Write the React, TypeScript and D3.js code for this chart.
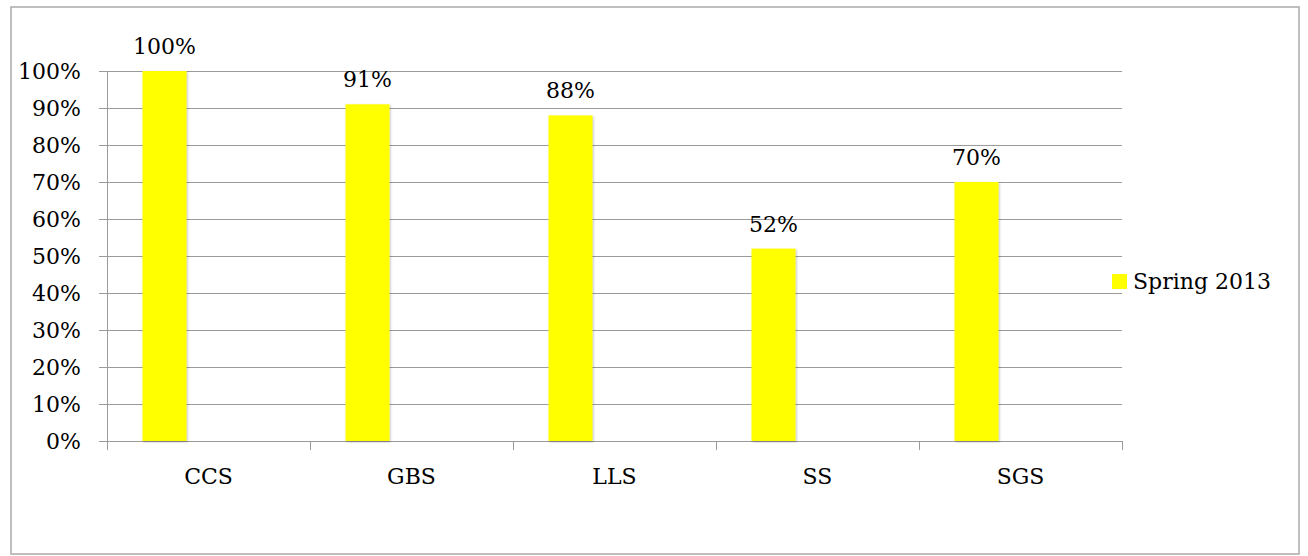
import React from "react";
import * as d3 from "d3";

const categories = ["CCS", "GBS", "LLS", "SS", "SGS"];
const seriesNames = ["Spring 2013", "_s2", "_s3"];
const springValues = [1.0, 0.91, 0.88, 0.52, 0.7];
const yTicks = [0, 0.1, 0.2, 0.3, 0.4, 0.5, 0.6, 0.7, 0.8, 0.9, 1.0];

const W = 1308;
const H = 556;
const FONT = "'DejaVu Serif', serif";
const FS = 22;

export default function App() {
  const left = 107;
  const right = 1122;
  const top = 71;
  const bottom = 441;

  const x0 = d3.scaleBand<string>().domain(categories).range([left, right]).padding(0);
  const x1 = d3
    .scaleBand<string>()
    .domain(seriesNames)
    .range([0, x0.bandwidth()])
    .paddingInner(0)
    .paddingOuter(0.807);
  const y = d3.scaleLinear().domain([0, 1]).range([bottom, top]);
  const fmt = d3.format(".0%");

  const ticksX = [...categories.map((c) => x0(c)!), right];

  return (
    <svg
      width={W}
      height={H}
      style={{ position: "absolute", left: 0, top: 0, background: "#fff" }}
    >
      <defs>
        <filter id="sh" x="-20%" y="-5%" width="140%" height="110%">
          <feDropShadow dx="1" dy="1" stdDeviation="1.2" floodColor="#000" floodOpacity="0.25" />
        </filter>
      </defs>
      <rect x={11} y={7} width={1288} height={547} fill="#fff" stroke="#ababab" strokeWidth={1.5} />

      {yTicks.map((t) => (
        <line
          key={"g" + t}
          x1={left - 8}
          x2={right}
          y1={Math.round(y(t)) + 0.5}
          y2={Math.round(y(t)) + 0.5}
          stroke="#9a9a9a"
          strokeWidth={1}
        />
      ))}
      <line x1={left + 0.5} x2={left + 0.5} y1={top} y2={bottom + 9} stroke="#9a9a9a" />
      {ticksX.map((tx, i) => (
        <line
          key={"t" + i}
          x1={Math.round(tx) + 0.5}
          x2={Math.round(tx) + 0.5}
          y1={bottom}
          y2={bottom + 9}
          stroke="#9a9a9a"
        />
      ))}
      {yTicks.map((t) => (
        <text
          key={"l" + t}
          x={81}
          y={y(t)}
          dy="0.36em"
          textAnchor="end"
          fontFamily={FONT}
          fontSize={FS}
          fill="#000"
        >
          {fmt(t)}
        </text>
      ))}
      {categories.map((c, i) => {
        const bx = x0(c)! + x1(seriesNames[0])!;
        const bw = x1.bandwidth();
        const v = springValues[i];
        return (
          <g key={"b" + c}>
            <rect
              x={bx}
              y={y(v)}
              width={bw}
              height={y(0) - y(v)}
              fill="#ffff00"
              filter="url(#sh)"
            />
            <text
              x={bx + bw / 2}
              y={y(v) - 17}
              textAnchor="middle"
              fontFamily={FONT}
              fontSize={FS}
              fill="#000"
            >
              {fmt(v)}
            </text>
          </g>
        );
      })}
      {categories.map((c) => (
        <text
          key={"c" + c}
          x={x0(c)! + x0.bandwidth() / 2}
          y={484}
          textAnchor="middle"
          fontFamily={FONT}
          fontSize={FS}
          fill="#000"
        >
          {c}
        </text>
      ))}
      <rect x={1112} y={274} width={15} height={15} fill="#ffff00" />
      <text x={1133} y={289} fontFamily={FONT} fontSize={FS} fill="#000">
        {seriesNames[0]}
      </text>
    </svg>
  );
}
